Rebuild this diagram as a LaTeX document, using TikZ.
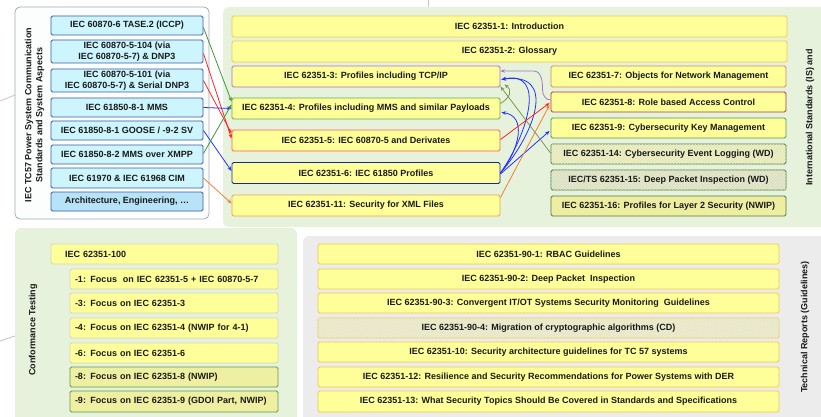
\documentclass[tikz,border=0pt]{standalone}
\usepackage{fontspec}
\setmainfont{Liberation Sans}
\usetikzlibrary{arrows.meta,patterns,patterns.meta,calc}

\definecolor{txt}{HTML}{1A1A1A}
\definecolor{panelgreen}{HTML}{E7F2DD}
\definecolor{panelgray}{HTML}{ECECEC}
\definecolor{paneledge}{HTML}{A4ACB4}
\definecolor{cyanfill}{HTML}{CCF5FD}
\definecolor{cyandark}{HTML}{B6E3F7}
\definecolor{cyanedge}{HTML}{3C5AA6}
\definecolor{yfill}{HTML}{FFFF99}
\definecolor{gold}{HTML}{F2C94C}
\definecolor{paleedge}{HTML}{D6D6B4}
\definecolor{edgepurple}{HTML}{B070C8}
\definecolor{edgegreen}{HTML}{6AAA4A}
\definecolor{edgered}{HTML}{F06A4A}
\definecolor{edgenavy}{HTML}{1A2A8A}
\definecolor{edgeorange}{HTML}{F0A050}
\definecolor{edgebrown}{HTML}{D08A60}
\definecolor{edgedarkred}{HTML}{B03A3A}
\definecolor{edgeleaf}{HTML}{5A9A4A}
\definecolor{edgeforest}{HTML}{4A7A3A}
\definecolor{hatchfill}{HTML}{E4E8B4}
\definecolor{hatchgreen}{HTML}{D9E0BE}
\definecolor{dotfill}{HTML}{F4F4A6}
\definecolor{greyhatch}{HTML}{E6E6C4}
\definecolor{arrgreen}{HTML}{3C9A3C}
\definecolor{arrred}{HTML}{FF2424}
\definecolor{arrblue}{HTML}{2232FF}
\definecolor{arrorange}{HTML}{F08030}
\definecolor{arrpurple}{HTML}{A278C8}
\definecolor{arrolive}{HTML}{789850}
\definecolor{faint}{HTML}{C4C4C4}

\begin{document}
\begin{tikzpicture}[x=1pt,y=-1pt,
  box/.style={rectangle, rounded corners=1.5pt, line width=0.9pt, inner sep=0pt,
    align=center, text=txt, font=\bfseries\fontsize{9}{11.5}\selectfont},
  cbox/.style={box, fill=cyanfill, draw=cyanedge, minimum width=152},
  ybox/.style={box, fill=yfill},
  widebox/.style={ybox, draw=gold, minimum width=555, minimum height=21},
  midbox/.style={ybox, minimum width=268, minimum height=21},
  rbox/.style={ybox, minimum width=235, minimum height=20},
  tbox/.style={ybox, draw=gold, minimum width=461, minimum height=20},
  headbox/.style={ybox, draw=paleedge, minimum width=227, minimum height=20,
    text width=199, inner xsep=14, align=left},
  focusbox/.style={ybox, draw=paleedge, minimum width=208, minimum height=20,
    text width=198, inner xsep=5, align=left},
  hatched/.style={postaction={pattern={Lines[angle=45,distance=2.2pt,line width=0.35pt]},
    pattern color=#1}},
  dotted fill/.style={postaction={pattern={Dots[distance=2pt,radius=0.4pt]},
    pattern color=#1}},
  sidelabel/.style={rotate=90, align=center, text=txt,
    font=\bfseries\fontsize{9}{11}\selectfont},
  conn/.style={line width=0.8pt, -{Stealth[length=4.5pt,width=3.6pt]}},
  faintline/.style={faint, line width=0.8pt}
]
\useasboundingbox (0,0) rectangle (821,417);
\clip (0,0) rectangle (821,417);

% thin links leading into the panels
\draw[faintline] (0,101) -- (15,95);
\draw[faintline] (0,341) -- (15,336);
\draw[faintline] (428,0) -- (428,14);
\draw[faintline] (425,412) -- (425,417);

% panels
\fill[panelgreen, rounded corners=6pt] (223,7) rectangle (840,227);
\fill[panelgreen, rounded corners=6pt] (15,228) rectangle (297,430);
\fill[panelgray, rounded corners=6pt] (303,236) rectangle (840,430);
\filldraw[fill=white!97!paneledge, draw=paneledge, line width=0.8pt, rounded corners=5pt]
  (15,7) rectangle (209,219);

% TC57 communication standards
\node[sidelabel] (tclabel) at (34.5,115)
  {IEC TC57 Power System Communication\\Standards and System Aspects};
\node[cbox, minimum height=19] (l1) at (127,25.5) {IEC 60870-6 TASE.2 (ICCP)};
\node[cbox, minimum height=23] (l2) at (127,51.5) {IEC 60870-5-104 (via\\IEC 60870-5-7) \& DNP3};
\node[cbox, minimum height=23] (l3) at (127,80.5) {IEC 60870-5-101 (via\\IEC 60870-5-7) \& Serial DNP3};
\node[cbox, minimum height=19] (l4) at (127,107.5) {IEC 61850-8-1 MMS};
\node[cbox, minimum height=19] (l5) at (127,130.5) {IEC 61850-8-1 GOOSE / -9-2 SV};
\node[cbox, minimum height=19] (l6) at (127,154.5) {IEC 61850-8-2 MMS over XMPP};
\node[cbox, minimum height=20] (l7) at (127,178) {IEC 61970 \& IEC 61968 CIM};
\node[cbox, fill=cyandark, minimum height=19] (l8) at (127,201.5) {Architecture, Engineering, \dots};

% IEC 62351 international standards
\node[widebox] (c1) at (509.5,26.5) {IEC 62351-1: Introduction};
\node[widebox] (c2) at (509.5,51.5) {IEC 62351-2: Glossary};
\node[midbox, draw=edgepurple] (c3) at (366,76.5) {IEC 62351-3: Profiles including TCP/IP};
\node[midbox, draw=edgegreen] (c4) at (366,108.5) {IEC 62351-4: Profiles including MMS and similar Payloads};
\node[midbox, draw=edgered] (c5) at (366,140.5) {IEC 62351-5: IEC 60870-5 and Derivates};
\node[midbox, draw=edgenavy] (c6) at (366,173) {IEC 62351-6: IEC 61850 Profiles};
\node[midbox, draw=edgeorange] (c11) at (366,205.5) {IEC 62351-11: Security for XML Files};

\node[rbox, draw=edgebrown, minimum height=21] (r7) at (668.5,76.5) {IEC 62351-7: Objects for Network Management};
\node[rbox, draw=edgedarkred] (r8) at (668.5,102) {IEC 62351-8: Role based Access Control};
\node[rbox, draw=edgeleaf] (r9) at (668.5,128) {IEC 62351-9: Cybersecurity Key Management};
\node[rbox, fill=hatchfill, draw=edgeforest, hatched=white!70!hatchfill] (r14) at (668.5,154)
  {IEC 62351-14: Cybersecurity Event Logging (WD)};
\node[rbox, fill=hatchgreen, draw=edgeforest, hatched=white!65!hatchgreen] (r15) at (668.5,180)
  {IEC/TS 62351-15: Deep Packet Inspection (WD)};
\node[rbox, fill=dotfill, draw=edgeforest, dotted fill=black!25!dotfill] (r16) at (668.5,206)
  {IEC 62351-16: Profiles for Layer 2 Security (NWIP)};

\node[sidelabel] (islabel) at (810,117.5) {International Standards (IS) and};

% conformance testing
\node[sidelabel] (ctlabel) at (33,330) {Conformance Testing};
\node[headbox] (b100) at (164.5,254) {IEC 62351-100};
\node[focusbox] (b1) at (174,279) {-1: Focus~ on IEC 62351-5 + IEC 60870-5-7};
\node[focusbox] (b3) at (174,303) {-3: Focus on IEC 62351-3};
\node[focusbox] (b4) at (174,328) {-4: Focus on IEC 62351-4 (NWIP for 4-1)};
\node[focusbox] (b6) at (174,353) {-6: Focus on IEC 62351-6};
\node[focusbox, fill=dotfill, draw=edgeleaf, dotted fill=black!22!dotfill] (b8) at (174,377)
  {-8: Focus on IEC 62351-8 (NWIP)};
\node[focusbox, fill=dotfill, draw=edgeleaf, dotted fill=black!22!dotfill, minimum height=21] (b9) at (174,401.5)
  {-9: Focus on IEC 62351-9 (GDOI Part, NWIP)};

% technical reports
\node[sidelabel] (trlabel) at (805,327) {Technical Reports (Guidelines)};
\node[tbox] (t1) at (548.5,254) {IEC 62351-90-1: RBAC Guidelines};
\node[tbox] (t2) at (548.5,279) {IEC 62351-90-2: Deep Packet~ Inspection};
\node[tbox] (t3) at (548.5,303) {IEC 62351-90-3: Convergent IT/OT Systems Security Monitoring~ Guidelines};
\node[tbox, fill=greyhatch, hatched=white!60!greyhatch] (t4) at (548.5,328)
  {IEC 62351-90-4: Migration of cryptographic algorithms (CD)};
\node[tbox] (t10) at (548.5,352) {IEC 62351-10: Security architecture guidelines for TC 57 systems};
\node[tbox] (t12) at (548.5,377) {IEC 62351-12: Resilience and Security Recommendations for Power Systems with DER};
\node[tbox, minimum height=21] (t13) at (548.5,401.5) {IEC 62351-13: What Security Topics Should Be Covered in Standards and Specifications};

% links from the communication standards to their security parts
\draw[conn, arrgreen] ($(l1.east)+(0,2)$) -- ($(c4.west)+(0,-7)$);
\draw[conn, arrred] ($(l2.east)+(0,2)$) -- ($(c5.west)+(0,-2)$);
\draw[conn, arrred] (l3.east) -- ($(c5.west)+(0,-7)$);
\draw[conn, arrblue] (l4.east) -- (c4.west);
\draw[conn, arrblue] (l5.east) -- ($(c6.west)+(0,-2)$);
\draw[conn, arrgreen] ($(l6.east)+(0,-1)$) -- ($(c4.west)+(0,-4)$);
\draw[conn, arrorange] (l7.east) -- ($(c11.west)+(0,-2)$);

% dependencies between the IEC 62351 parts
\draw[conn, arrpurple] ($(r8.west)+(0,-2)$) to[out=180,in=-90] ($(r8.west)+(-8,-12)$)
  to[out=90,in=0] ($(c3.east)+(33,-5.5)$) -- ($(c3.east)+(0,-5.5)$);
\draw[conn, arrblue] ($(c6.east)+(0,0)$) .. controls +(36,-42) and +(55,-8) .. ($(c3.east)+(1,3)$);
\draw[conn, arrblue] ($(c6.east)+(0,0)$) .. controls +(28,-40) and +(45,-10) .. ($(c3.east)+(1,3)$);
\draw[conn, arrblue] ($(c6.east)+(0,0)$) .. controls +(20,-25) and +(25,3) .. ($(c4.east)+(1,4)$);
\draw[conn, arrblue] ($(c6.east)+(0,1)$) -- ($(r9.west)+(-1,3)$);
\draw[conn, arrolive] ($(r14.west)+(0,-1)$) -- ($(c3.south east)+(0,-1)$);
\draw[conn, arrolive] ($(c4.east)+(0,-5)$) .. controls +(10,-6) and +(8,6) .. ($(c3.south east)+(4,-3)$);
\draw[conn, arrred] ($(c5.east)+(0,-1)$) -- ($(r8.west)+(-1,1)$);
\draw[conn, arrorange] ($(c11.east)+(0,-8)$) -- ($(r8.west)+(-1,3)$);
\end{tikzpicture}
\end{document}
